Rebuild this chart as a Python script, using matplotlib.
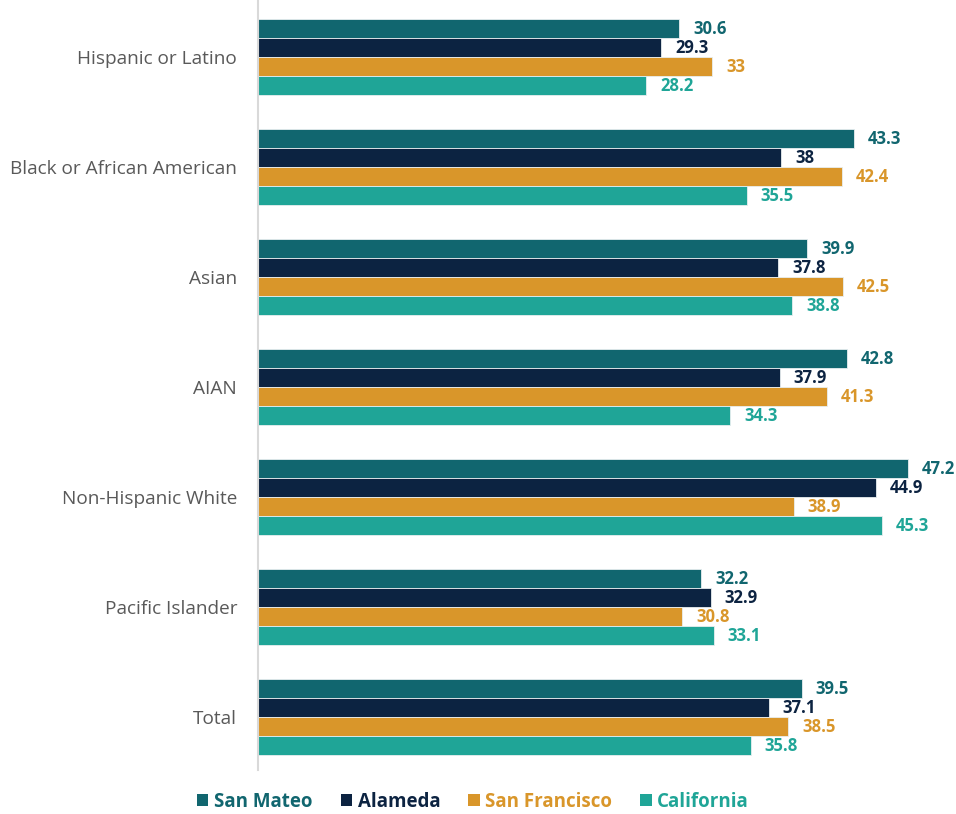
import numpy as np
import matplotlib.pyplot as plt
from matplotlib.patches import Patch

plt.rcParams['font.family'] = ['Open Sans', 'DejaVu Sans']

categories = ['Hispanic or Latino', 'Black or African American', 'Asian', 'AIAN',
              'Non-Hispanic White', 'Pacific Islander', 'Total']
series_names = ['San Mateo', 'Alameda', 'San Francisco', 'California']
san_mateo = [30.6, 43.3, 39.9, 42.8, 47.2, 32.2, 39.5]
alameda = [29.3, 38, 37.8, 37.9, 44.9, 32.9, 37.1]
san_francisco = [33, 42.4, 42.5, 41.3, 38.9, 30.8, 38.5]
california = [28.2, 35.5, 38.8, 34.3, 45.3, 33.1, 35.8]

colors = ['#11666f', '#0c2341', '#d9962a', '#1fa597']
series = [san_mateo, alameda, san_francisco, california]

fig = plt.figure(figsize=(9.56, 8.14), dpi=100)
ax = fig.add_axes([258 / 956, 44 / 814, 1 - 258 / 956, 770 / 814])

y = np.arange(len(categories))
h = 0.1727

for i, (vals, c) in enumerate(zip(series, colors)):
    pos = y + (i - 1.5) * h
    bars = ax.barh(pos, vals, height=h, color=c, edgecolor='#e8eef0', linewidth=0.6)
    for rect, v in zip(bars, vals):
        ax.annotate('{:g}'.format(v),
                    xy=(rect.get_width(), rect.get_y() + rect.get_height() / 2),
                    xytext=(10, 0), textcoords='offset points',
                    ha='left', va='center', fontsize=12, fontweight='bold', color=c)

ax.set_xlim(0, 50.7)
ax.set_ylim(6.48, -0.52)
ax.set_yticks(y)
ax.set_yticklabels(categories, fontsize=13.7, color='#595959')
ax.tick_params(axis='y', length=0, pad=15)
ax.set_xticks([])
for s in ['top', 'right', 'bottom']:
    ax.spines[s].set_visible(False)
ax.spines['left'].set_color('#d9d9d9')
ax.spines['left'].set_linewidth(1.5)

handles = [Patch(facecolor=c, label=n) for c, n in zip(colors, series_names)]
leg = fig.legend(handles=handles, loc='center', bbox_to_anchor=(473 / 956, 1 - 802 / 814),
                 ncol=4, frameon=False, handlelength=0.6, handleheight=0.6,
                 handletextpad=0.3, columnspacing=1.5,
                 prop={'weight': 'bold', 'size': 13.5})
for t, c in zip(leg.get_texts(), colors):
    t.set_color(c)

plt.savefig('out.png', dpi=100)
